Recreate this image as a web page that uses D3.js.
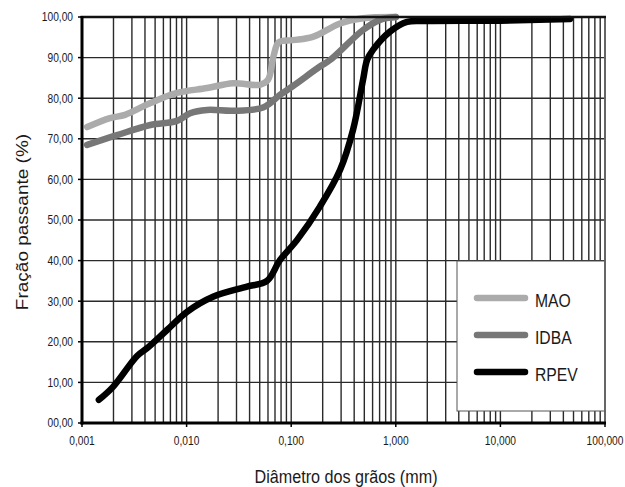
<!DOCTYPE html>
<html>
<head>
<meta charset="utf-8">
<script src="https://cdn.jsdelivr.net/npm/d3@7"></script>
<style>
  body { margin: 0; background: #fff; }
  text { font-family: "Liberation Sans", Arial, sans-serif; fill: #1a1a1a; }
</style>
</head>
<body>
<svg id="chart" width="625" height="487"></svg>
<script>
// grain size curves (diameter mm, % passing)
const maoD = [0.00112, 0.00185, 0.00258, 0.0045, 0.0081, 0.0157, 0.0278, 0.0503, 0.0600, 0.0680, 0.0760, 0.104, 0.161, 0.293, 0.486, 1.0]
const maoV = [72.9, 75.1, 75.9, 78.8, 81.3, 82.5, 83.7, 83.3, 84.5, 90.5, 93.8, 94.3, 95.1, 98.4, 99.7, 100]

const idbaD = [0.00112, 0.00216, 0.0045, 0.0081, 0.0108, 0.0157, 0.0278, 0.0538, 0.078, 0.104, 0.188, 0.235, 0.486, 0.706, 1.0]
const idbaV = [68.5, 70.9, 73.4, 74.4, 76.3, 77.1, 76.9, 77.7, 80.8, 83.0, 87.8, 89.4, 96.8, 99.3, 100]

const rpevD = [0.00145, 0.00198, 0.00336, 0.00418, 0.0065, 0.0101, 0.0179, 0.0378, 0.0587, 0.078, 0.114, 0.188, 0.293, 0.39, 0.486, 0.531, 0.605, 0.88, 1.28, 2.0, 10, 46.3]
const rpevV = [5.7, 8.9, 16.5, 18.4, 22.9, 27.4, 31.1, 33.6, 35.0, 40.1, 45.1, 53.3, 62.3, 72.2, 84.5, 89.4, 91.9, 96.4, 98.8, 99.0, 99.1, 99.5]

const seriesNames = ["MAO", "IDBA", "RPEV"]
const seriesColors = ["#ababab", "#777777", "#000000"]

const xTicks = [0.001, 0.01, 0.1, 1, 10, 100]
const xTickLabels = ["0,001", "0,010", "0,100", "1,000", "10,000", "100,000"]
const yTicks = [0, 10, 20, 30, 40, 50, 60, 70, 80, 90, 100]
const yTickLabels = ["00,00", "10,00", "20,00", "30,00", "40,00", "50,00", "60,00", "70,00", "80,00", "90,00", "100,00"]

const pLeft = 82, pRight = 605, pTop = 17, pBottom = 423
const sx = 0.85   // text looks horizontally squeezed

const svg = d3.select("#chart")

const x = d3.scaleLog().domain([0.001, 100]).range([pLeft, pRight])
const y = d3.scaleLinear().domain([0, 100]).range([pBottom, pTop])

// grid
const grid = svg.append("g")
const minor = []
for (let k = -3; k <= 1; k++) {
    for (let m = 1; m <= 9; m++) minor.push(m * Math.pow(10, k))
}
minor.push(100)

grid.selectAll(".vgrid")
    .data(minor)
    .enter().append("line")
    .attr("x1", d => x(d)).attr("x2", d => x(d))
    .attr("y1", pTop).attr("y2", pBottom)
    .attr("stroke", "#2a2a2a")
    .attr("stroke-width", 1.4)

grid.selectAll(".hgrid")
    .data(yTicks)
    .enter().append("line")
    .attr("x1", pLeft).attr("x2", pRight)
    .attr("y1", d => y(d)).attr("y2", d => y(d))
    .attr("stroke", "#2a2a2a")
    .attr("stroke-width", 1.4)

// curves
const line = d3.line()
    .x(d => x(d[0]))
    .y(d => y(d[1]))
    .curve(d3.curveCatmullRom.alpha(0.5))

const series = [
    d3.zip(maoD, maoV),
    d3.zip(idbaD, idbaV),
    d3.zip(rpevD, rpevV)
]

svg.selectAll(".curve")
    .data(series)
    .enter().append("path")
    .attr("d", line)
    .attr("fill", "none")
    .attr("stroke", (d, i) => seriesColors[i])
    .attr("stroke-width", 6.5)
    .attr("stroke-linejoin", "round")
    .attr("stroke-linecap", "round")

// frame
svg.append("line").attr("x1", pRight).attr("x2", pRight).attr("y1", pTop).attr("y2", pBottom)
    .attr("stroke", "#666").attr("stroke-width", 2)
svg.append("line").attr("x1", pLeft - 1.5).attr("x2", pRight + 1).attr("y1", pTop).attr("y2", pTop)
    .attr("stroke", "#111").attr("stroke-width", 2.5)
svg.append("line").attr("x1", pLeft).attr("x2", pLeft).attr("y1", pTop - 1).attr("y2", pBottom + 1.5)
    .attr("stroke", "#000").attr("stroke-width", 3)
svg.append("line").attr("x1", pLeft - 1.5).attr("x2", pRight + 1).attr("y1", pBottom).attr("y2", pBottom)
    .attr("stroke", "#000").attr("stroke-width", 3)

// ticks
svg.selectAll(".xtick")
    .data(xTicks)
    .enter().append("line")
    .attr("x1", d => x(d)).attr("x2", d => x(d))
    .attr("y1", pBottom).attr("y2", pBottom + 4)
    .attr("stroke", "#000").attr("stroke-width", 1.5)

svg.selectAll(".ytick")
    .data(yTicks)
    .enter().append("line")
    .attr("x1", pLeft - 4).attr("x2", pLeft)
    .attr("y1", d => y(d)).attr("y2", d => y(d))
    .attr("stroke", "#000").attr("stroke-width", 1.5)

svg.selectAll(".xlabel")
    .data(xTicks)
    .enter().append("text")
    .attr("transform", d => `translate(${x(d)},445) scale(${sx},1)`)
    .attr("text-anchor", "middle")
    .attr("font-size", 12)
    .text((d, i) => xTickLabels[i])

svg.selectAll(".ylabel")
    .data(yTicks)
    .enter().append("text")
    .attr("transform", d => `translate(73,${y(d) + 4.3}) scale(${sx},1)`)
    .attr("text-anchor", "end")
    .attr("font-size", 12)
    .text((d, i) => yTickLabels[i])

// axis titles
svg.append("text")
    .attr("transform", `translate(346,483) scale(${sx},1)`)
    .attr("text-anchor", "middle")
    .attr("font-size", 19)
    .text("Diâmetro dos grãos (mm)")

svg.append("text")
    .attr("transform", `translate(28,222) scale(${sx},1) rotate(-90)`)
    .attr("text-anchor", "middle")
    .attr("font-size", 19)
    .text("Fração passante (%)")

// legend
const legend = svg.append("g")
legend.append("rect")
    .attr("x", 457).attr("y", 261)
    .attr("width", pRight - 457).attr("height", 150)
    .attr("fill", "#fff")
    .attr("stroke", "#555")
    .attr("stroke-width", 1)

const legY = [298, 335, 372]
seriesNames.forEach((name, i) => {
    legend.append("line")
        .attr("x1", 477).attr("x2", 525)
        .attr("y1", legY[i]).attr("y2", legY[i])
        .attr("stroke", seriesColors[i])
        .attr("stroke-width", 6.5)
        .attr("stroke-linecap", "round")
    legend.append("text")
        .attr("transform", `translate(535,${legY[i] + 8.5}) scale(${sx},1)`)
        .attr("font-size", 18.5)
        .text(name)
})
svg.append("line").attr("x1", pRight).attr("x2", pRight).attr("y1", 261).attr("y2", 411)
    .attr("stroke", "#666").attr("stroke-width", 2)
</script>
</body>
</html>
